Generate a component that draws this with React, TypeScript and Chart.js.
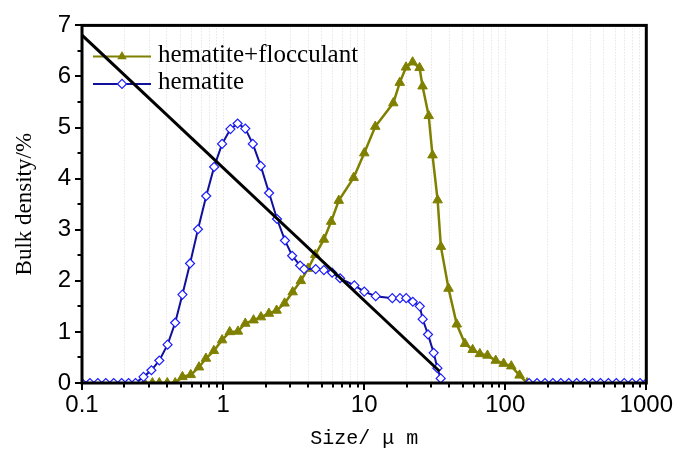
import React, { useEffect, useRef } from 'react';
import { Chart, registerables } from 'chart.js';

Chart.register(...registerables);

// ---- data ----
const seriesLabels = ['hematite+flocculant', 'hematite'];

const flocSize = [0.2771, 0.3155, 0.3533, 0.4022, 0.4576, 0.515, 0.5901, 0.6749, 0.7557, 0.8604, 0.984, 1.1144, 1.275, 1.437, 1.644, 1.855, 2.112, 2.396, 2.728, 3.113, 3.556, 4.001, 4.503, 5.184, 5.834, 6.609, 8.424, 10.02, 11.99, 16.09, 17.88, 19.8, 22.06, 24.71, 25.94, 28.68, 30.5, 33.17, 34.99, 39.63, 45.33, 51.84, 58.72, 66.09, 74.85, 85.6, 97.45, 110.4, 126.3, 143.0];
const flocDensity = [0, 0, 0, 0, 0, 0.12, 0.16, 0.31, 0.48, 0.63, 0.84, 1.0, 1.01, 1.165, 1.23, 1.29, 1.36, 1.42, 1.56, 1.78, 2.0, 2.24, 2.51, 2.81, 3.16, 3.57, 4.02, 4.5, 5.02, 5.48, 5.88, 6.18, 6.28, 6.17, 5.81, 5.23, 4.46, 3.58, 2.67, 1.85, 1.15, 0.77, 0.65, 0.57, 0.54, 0.44, 0.38, 0.33, 0.15, 0];

// null marks the gap where the hematite curve is not drawn
const hemSize = [0.1, 0.1138, 0.1295, 0.1475, 0.1678, 0.191, 0.214, 0.2396, 0.2727, 0.3104, 0.3533, 0.4042, 0.4576, 0.515, 0.5834, 0.6641, 0.7596, 0.8643, 0.984, 1.127, 1.268, 1.437, 1.625, 1.849, 2.119, 2.412, 2.745, 3.088, 3.516, 3.751, 4.533, 5.184, 5.929, 6.751, 8.52, 10.02, 12.08, 15.83, 17.94, 19.86, 22.13, 24.79, 25.99, 28.36, 31.09, 33.06, 34.88, 80, 147.7, 168.1, 191.3, 217.7, 247.8, 282.0, 321.0, 365.3, 415.8, 473.2, 538.6, 613.0, 697.6, 794.0, 903.6, 1000];
const hemDensity = [0, 0, 0, 0, 0, 0, 0, 0, 0.12, 0.25, 0.44, 0.75, 1.18, 1.73, 2.34, 3.01, 3.66, 4.23, 4.68, 4.97, 5.08, 4.98, 4.68, 4.25, 3.72, 3.21, 2.79, 2.49, 2.3, 2.23, 2.23, 2.21, 2.16, 2.05, 1.91, 1.79, 1.7, 1.66, 1.66, 1.66, 1.59, 1.5, 1.25, 0.95, 0.59, 0.29, 0.09, null, 0, 0, 0, 0, 0, 0, 0, 0, 0, 0, 0, 0, 0, 0, 0, 0];

const lineSize = [0.1, 34.2];
const lineDensity = [6.81, 0.23];

const xMajorTicks = [0.1, 1, 10, 100, 1000];
const xTickLabels = ['0.1', '1', '10', '100', '1000'];
const xMinorMultipliers = [2, 3, 4, 5, 6, 7, 8, 9];
const yTickLabels = ['0', '1', '2', '3', '4', '5', '6', '7'];

const OLIVE = '#808000';
const NAVY = '#10109a';
const BLUE = '#1c1cff';

const xTickValues: number[] = [];
xMajorTicks.forEach((m, i) => {
  xTickValues.push(m);
  if (i < xMajorTicks.length - 1) xMinorMultipliers.forEach((k) => xTickValues.push(m * k));
});

const isMajor = (v: number) => {
  const l = Math.log10(v);
  return Math.abs(l - Math.round(l)) < 1e-6;
};

function drawTriangle(ctx: CanvasRenderingContext2D, x: number, y: number, r: number) {
  ctx.beginPath();
  ctx.moveTo(x, y - r);
  ctx.lineTo(x + r * 0.866, y + r * 0.5);
  ctx.lineTo(x - r * 0.866, y + r * 0.5);
  ctx.closePath();
}
function drawDiamond(ctx: CanvasRenderingContext2D, x: number, y: number, r: number) {
  ctx.beginPath();
  ctx.moveTo(x - r, y);
  ctx.lineTo(x, y - r);
  ctx.lineTo(x + r, y);
  ctx.lineTo(x, y + r);
  ctx.closePath();
}

const legendPlugin = {
  id: 'insideLegend',
  beforeDatasetsDraw(chart: any) {
    const ctx: CanvasRenderingContext2D = chart.ctx;
    const a = chart.chartArea;
    ctx.save();
    const rows = [
      { label: seriesLabels[0], color: OLIVE, kind: 'tri' },
      { label: seriesLabels[1], color: NAVY, kind: 'dia' },
    ];
    rows.forEach((r, i) => {
      const y = a.top + 31 + i * 27.5;
      const x0 = a.left + 11;
      const x1 = a.left + 69;
      const xm = (x0 + x1) / 2;
      ctx.strokeStyle = r.color;
      ctx.lineWidth = 2;
      ctx.beginPath();
      ctx.moveTo(x0, y);
      ctx.lineTo(x1, y);
      ctx.stroke();
      if (r.kind === 'tri') {
        drawTriangle(ctx, xm, y, 5.5);
        ctx.fillStyle = OLIVE;
        ctx.fill();
      } else {
        drawDiamond(ctx, xm, y, 4.5);
        ctx.fillStyle = '#fff';
        ctx.fill();
        ctx.strokeStyle = BLUE;
        ctx.lineWidth = 1.2;
        ctx.stroke();
      }
      ctx.fillStyle = '#000';
      ctx.font = '25px "Liberation Serif", serif';
      ctx.textBaseline = 'middle';
      ctx.textAlign = 'left';
      ctx.fillText(r.label, a.left + 76, y - 1);
    });
    ctx.restore();
  },
};

const framePlugin = {
  id: 'frameTicks',
  afterDatasetsDraw(chart: any) {
    const ctx: CanvasRenderingContext2D = chart.ctx;
    const a = chart.chartArea;
    const xs = chart.scales.x;
    const ys = chart.scales.y;
    ctx.save();
    ctx.strokeStyle = '#000';
    ctx.lineWidth = 3;
    ctx.strokeRect(a.left, a.top, a.right - a.left, a.bottom - a.top);
    ctx.lineWidth = 2;
    xTickValues.forEach((v) => {
      const px = Math.round(xs.getPixelForValue(v));
      ctx.beginPath();
      ctx.moveTo(px, a.bottom);
      ctx.lineTo(px, a.bottom + (isMajor(v) ? 7 : 4.5));
      ctx.stroke();
    });
    for (let i = 0; i < yTickLabels.length * 2 - 1; i++) {
      const v = i / 2;
      const py = Math.round(ys.getPixelForValue(v));
      ctx.beginPath();
      ctx.moveTo(a.left, py);
      ctx.lineTo(a.left - (i % 2 === 0 ? 7 : 4.5), py);
      ctx.stroke();
    }
    ctx.restore();
  },
};

export default function App() {
  const ref = useRef<HTMLCanvasElement>(null);
  useEffect(() => {
    const tickFont = { family: '"Liberation Sans", Arial, sans-serif', size: 24 };
    const chart = new Chart(ref.current as HTMLCanvasElement, {
      type: 'line',
      data: {
        datasets: [
          {
            label: 'fit',
            data: lineSize.map((x, i) => ({ x, y: lineDensity[i] })),
            borderColor: '#000',
            borderWidth: 3,
            pointRadius: 0,
            clip: 0,
          },
          {
            label: seriesLabels[1],
            data: hemSize.map((x, i) => ({ x, y: hemDensity[i] })),
            borderColor: NAVY,
            borderWidth: 2,
            pointStyle: 'rectRot',
            pointRadius: 4.5,
            pointBorderColor: BLUE,
            pointBackgroundColor: '#fff',
            pointBorderWidth: 1.2,
            spanGaps: false,
            clip: 0,
          },
          {
            label: seriesLabels[0],
            data: flocSize.map((x, i) => ({ x, y: flocDensity[i] })),
            borderColor: OLIVE,
            borderWidth: 2.5,
            pointStyle: 'triangle',
            pointRadius: 5.5,
            pointBorderColor: OLIVE,
            pointBackgroundColor: OLIVE,
            pointBorderWidth: 1,
            clip: 0,
          },
        ],
      } as any,
      options: {
        responsive: false,
        animation: false,
        devicePixelRatio: 1,
        layout: { padding: { left: 0, right: 30, top: 18, bottom: 0 } },
        plugins: { legend: { display: false }, tooltip: { enabled: false } },
        elements: { line: { tension: 0 } },
        scales: {
          x: {
            type: 'logarithmic',
            min: 0.1,
            max: 1000,
            afterBuildTicks: (scale: any) => {
              scale.ticks = xTickValues.map((v) => ({ value: v }));
            },
            afterFit: (scale: any) => {
              scale.height = 71;
            },
            ticks: {
              autoSkip: false,
              maxRotation: 0,
              minRotation: 0,
              padding: 8,
              color: '#000',
              font: tickFont,
              callback: (value: any) => {
                const v = Number(value);
                if (!isMajor(v)) return '';
                return xTickLabels[Math.round(Math.log10(v)) + 1];
              },
            },
            grid: { color: '#dadada', lineWidth: 1, drawTicks: false },
            border: { display: false, dash: [1, 2] },
            title: {
              display: true,
              text: 'Size/ μ m',
              color: '#000',
              font: { family: '"Liberation Mono", monospace', size: 20 },
              padding: { top: 0, bottom: 3 },
            },
          },
          y: {
            type: 'linear',
            min: 0,
            max: 7,
            afterFit: (scale: any) => {
              scale.width = 82;
            },
            ticks: {
              stepSize: 1,
              padding: 11,
              color: '#000',
              font: tickFont,
              callback: (value: any) => yTickLabels[Math.round(Number(value))],
            },
            grid: { display: false, drawTicks: false },
            border: { display: false },
            title: {
              display: true,
              text: 'Bulk density/%',
              color: '#000',
              font: { family: '"Liberation Serif", serif', size: 23 },
              padding: { top: 11, bottom: 0 },
            },
          },
        },
      } as any,
      plugins: [legendPlugin, framePlugin],
    });
    return () => chart.destroy();
  }, []);
  return (
    <div style={{ position: 'fixed', left: 0, top: 0, width: 681, height: 454, background: '#fff' }}>
      <canvas ref={ref} width={681} height={454} style={{ display: 'block', width: 681, height: 454 }} />
    </div>
  );
}
